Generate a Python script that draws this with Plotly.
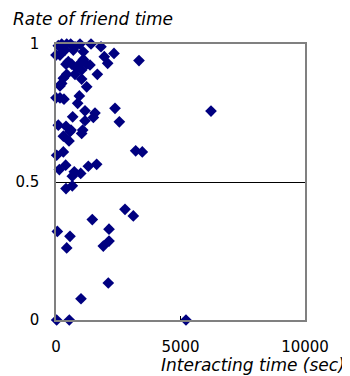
import plotly.graph_objects as go

# Interacting time (sec) and rate of friend time
interact_sec = [92, 228, 430, 590, 763, 964, 1406, 1807, 0, 160, 361, 695, 1097, 1940, 2329, 3333,
                1097, 494, 402, 630, 1233, 2075, 1365, 896, 830, 1030, 1660, 763, 430, 295, 1030,
                228, 160, 1233, 0, 160, 321, 937, 870, 1165, 1566, 1500, 2370, 2544, 670, 1165,
                92, 402, 602, 1072, 295, 6225,
                562, 1030, 522, 27, 295, 3200, 3466, 134, 388, 1298, 1633, 735, 655, 992, 402, 655,
                2771, 3105, 1458, 54, 562, 2129,
                430, 2129, 1900, 2100, 1004, 27, 534, 5220]
friend_rate = [0.994, 1.0, 1.0, 1.0, 0.99, 1.0, 1.0, 0.99, 0.96, 0.96, 0.978, 0.978, 0.972, 0.954, 0.966, 0.94,
               0.944, 0.936, 0.927, 0.927, 0.927, 0.93, 0.924, 0.924, 0.912, 0.906, 0.89, 0.89, 0.89, 0.876, 0.873,
               0.857, 0.848, 0.845, 0.805, 0.805, 0.80, 0.812, 0.785, 0.758, 0.75, 0.734, 0.767, 0.718, 0.736, 0.722,
               0.706, 0.702, 0.688, 0.688, 0.666, 0.757,
               0.682, 0.676, 0.649, 0.597, 0.609, 0.613, 0.609, 0.545, 0.561, 0.557, 0.564, 0.537, 0.521, 0.531, 0.476, 0.486,
               0.401, 0.377, 0.364, 0.321, 0.303, 0.329,
               0.261, 0.286, 0.268, 0.134, 0.077, 0.0, 0.0, 0.0]

x_ticks = [0, 5000, 10000]
y_ticks = [0, 0.5, 1]
y_tick_labels = ["0", "0.5", "1"]

font_family = "DejaVu Sans"

fig = go.Figure()
fig.add_trace(go.Scatter(
    x=interact_sec, y=friend_rate, mode="markers",
    marker=dict(symbol="diamond", size=9, color="#000080", line=dict(width=0)),
    cliponaxis=False, showlegend=False,
))

fig.update_layout(
    width=342, height=368,
    margin=dict(l=48, r=45, t=36, b=56),
    paper_bgcolor="white", plot_bgcolor="white",
    font=dict(family=font_family, size=15, color="black"),
    xaxis=dict(range=[0, 10000], tickvals=x_ticks, ticktext=[str(v) for v in x_ticks],
               automargin=False,
               showgrid=False, showline=True, mirror=True, linecolor="#808080", linewidth=1.5,
               zeroline=True, zerolinecolor="black", zerolinewidth=1.5,
               ticks="inside", ticklen=4, tickcolor="black", ticklabelstandoff=12,
               tickfont=dict(size=15)),
    yaxis=dict(range=[0, 1], tickvals=y_ticks, ticktext=y_tick_labels,
               automargin=False,
               showgrid=True, gridcolor="black", gridwidth=1,
               showline=True, mirror=True, linecolor="#808080", linewidth=1.5,
               zeroline=True, zerolinecolor="black", zerolinewidth=1.5,
               ticks="", ticklabelstandoff=12, tickfont=dict(size=15)),
    annotations=[
        dict(text="<i>Rate of friend time</i>", xref="paper", yref="paper",
             x=-0.181, y=1.091, xanchor="left", yanchor="middle", showarrow=False,
             font=dict(size=17, family=font_family)),
        dict(text="<i>Interacting time (sec)</i>", xref="paper", yref="paper",
             x=1.169, y=-0.162, xanchor="right", yanchor="middle", showarrow=False,
             font=dict(size=17, family=font_family)),
    ],
)

fig.write_html("out.html")
